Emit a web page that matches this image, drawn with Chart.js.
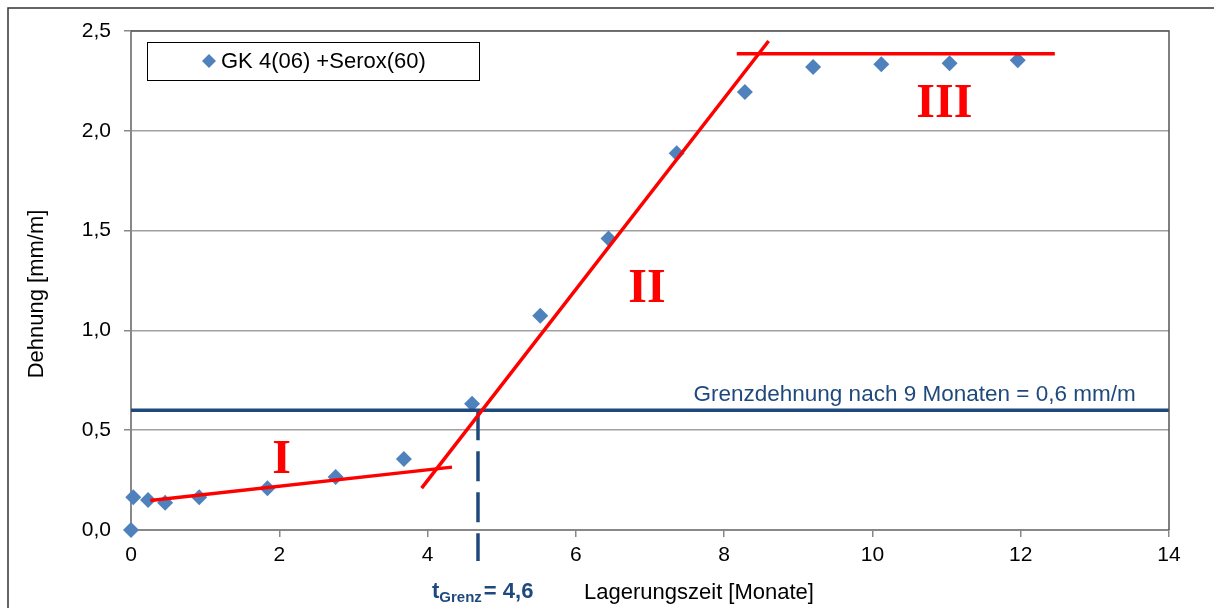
<!DOCTYPE html>
<html>
<head>
<meta charset="utf-8">
<script src="https://cdn.jsdelivr.net/npm/chart.js@4.4.1/dist/chart.umd.min.js"></script>
<style>
    html, body { margin: 0; padding: 0; background: #fff; }
    #wrap { width: 1214px; height: 608px; position: relative; }
</style>
</head>
<body>
<div id="wrap"><canvas id="chart"></canvas></div>
<script>
// Messwerte
const lagerMonate = [0, 0.03, 0.23, 0.46, 0.92, 1.84, 2.76, 3.68, 4.6, 5.52, 6.44, 7.36, 8.28, 9.2, 10.12, 11.04, 11.96];
const dehnung = [0, 0.164, 0.15, 0.137, 0.164, 0.209, 0.265, 0.356, 0.633, 1.074, 1.46, 1.888, 2.195, 2.32, 2.334, 2.339, 2.353];

// Ausgleichsgeraden der drei Phasen
const phaseIx = [0.26, 4.33];
const phaseIy = [0.148, 0.315];
const phaseIIx = [3.92, 8.6];
const phaseIIy = [0.21, 2.45];
const phaseIIIx = [8.17, 12.46];
const phaseIIIy = [2.386, 2.386];

// Grenzdehnung und Grenzzeit
const grenzX = [0, 14];
const grenzY = [0.6, 0.6];
const tGrenzX = [4.68, 4.68];
const tGrenzY = [0.6, -0.155];

const xTicks = [0, 2, 4, 6, 8, 10, 12, 14];
const yTicks = [0, 0.5, 1.0, 1.5, 2.0, 2.5];

const serieName = 'GK 4(06) +Serox(60)';
const rot = '#ff0000';
const dunkelblau = '#1f497d';
const punktFarbe = '#4f81bd';

const zip = (xs, ys) => xs.map((x, i) => ({ x: x, y: ys[i] }));

// Texte, Rahmen und Legende
const beschriftung = {
    id: 'beschriftung',
    afterDraw(chart) {
        const ctx = chart.ctx;
        const xs = chart.scales.x, ys = chart.scales.y;
        const a = chart.chartArea;
        ctx.save();

        // äußerer Rahmen
        ctx.strokeStyle = '#333';
        ctx.lineWidth = 1.5;
        ctx.beginPath();
        ctx.moveTo(8, 608);
        ctx.lineTo(8, 8);
        ctx.lineTo(1214, 8);
        ctx.stroke();

        // Rahmen Zeichenfläche oben / rechts
        ctx.strokeStyle = '#555';
        ctx.lineWidth = 1.5;
        ctx.beginPath();
        ctx.moveTo(a.left, a.top);
        ctx.lineTo(a.right, a.top);
        ctx.lineTo(a.right, a.bottom);
        ctx.stroke();

        // Legende
        ctx.fillStyle = '#fff';
        ctx.fillRect(147, 42, 332, 38);
        ctx.strokeStyle = '#000';
        ctx.lineWidth = 1;
        ctx.strokeRect(147.5, 42.5, 332, 38);
        ctx.fillStyle = punktFarbe;
        ctx.beginPath();
        ctx.moveTo(209, 54);
        ctx.lineTo(216, 61);
        ctx.lineTo(209, 68);
        ctx.lineTo(202, 61);
        ctx.closePath();
        ctx.fill();
        ctx.fillStyle = '#000';
        ctx.font = '22px "Liberation Sans", Arial, sans-serif';
        ctx.textAlign = 'left';
        ctx.textBaseline = 'middle';
        ctx.fillText(serieName, 221, 62);

        // Phasen I, II, III
        ctx.fillStyle = rot;
        ctx.font = 'bold 48px "Liberation Serif", "Times New Roman", serif';
        ctx.textAlign = 'center';
        ctx.textBaseline = 'middle';
        ctx.fillText('I', xs.getPixelForValue(2.03), ys.getPixelForValue(0.36) + 2);
        ctx.fillText('II', xs.getPixelForValue(6.96), ys.getPixelForValue(1.215) + 2);
        ctx.fillText('III', xs.getPixelForValue(10.97), ys.getPixelForValue(2.14) + 2);

        // Grenzdehnung
        ctx.fillStyle = dunkelblau;
        ctx.font = '22.5px "Liberation Sans", Arial, sans-serif';
        ctx.textAlign = 'right';
        ctx.fillText('Grenzdehnung nach 9 Monaten = 0,6 mm/m', xs.getPixelForValue(13.55), ys.getPixelForValue(0.69) + 3);

        // t_Grenz
        ctx.textAlign = 'left';
        ctx.textBaseline = 'alphabetic';
        let x = 432;
        const yb = 598;
        ctx.font = 'bold 22px "Liberation Sans", Arial, sans-serif';
        ctx.fillText('t', x, yb);
        x += ctx.measureText('t').width;
        ctx.font = 'bold 15px "Liberation Sans", Arial, sans-serif';
        ctx.fillText('Grenz', x, yb + 4);
        x += ctx.measureText('Grenz').width + 2;
        ctx.font = 'bold 22px "Liberation Sans", Arial, sans-serif';
        ctx.fillText('= 4,6', x, yb);

        // Achsentitel
        ctx.fillStyle = '#000';
        ctx.font = '22px "Liberation Sans", Arial, sans-serif';
        ctx.textAlign = 'center';
        ctx.textBaseline = 'middle';
        ctx.fillText('Lagerungszeit [Monate]', 699, 593);
        ctx.translate(37, 294);
        ctx.rotate(-Math.PI / 2);
        ctx.fillText('Dehnung [mm/m]', 0, 0);

        ctx.restore();
    }
};

const linie = (punkte, farbe, breite, extra) => Object.assign({
    type: 'line',
    data: punkte,
    borderColor: farbe,
    backgroundColor: farbe,
    borderWidth: breite,
    pointRadius: 0,
    fill: false,
    tension: 0
}, extra || {});

new Chart(document.getElementById('chart'), {
    type: 'scatter',
    data: {
        datasets: [
            linie(zip(phaseIx, phaseIy), rot, 3.5, { order: 1 }),
            linie(zip(phaseIIx, phaseIIy), rot, 3.5, { order: 1 }),
            linie(zip(phaseIIIx, phaseIIIy), rot, 3.5, { order: 1 }),
            linie(zip(grenzX, grenzY), dunkelblau, 3.5, { order: 2 }),
            linie(zip(tGrenzX, tGrenzY), dunkelblau, 3.5, { order: 2, borderDash: [30, 11], clip: false }),
            {
                label: serieName,
                data: zip(lagerMonate, dehnung),
                pointStyle: 'rectRot',
                pointRadius: 8,
                pointBorderWidth: 0,
                backgroundColor: punktFarbe,
                borderColor: punktFarbe,
                order: 3,
                clip: false
            }
        ]
    },
    options: {
        responsive: true,
        maintainAspectRatio: false,
        animation: false,
        layout: { padding: { top: 31, right: 45, left: 0, bottom: 0 } },
        plugins: {
            legend: { display: false },
            tooltip: { enabled: false },
            title: { display: false }
        },
        scales: {
            x: {
                type: 'linear',
                min: 0,
                max: 14,
                afterBuildTicks: (s) => { s.ticks = xTicks.map(v => ({ value: v })); },
                afterFit: (s) => { s.height = 78; },
                grid: { drawOnChartArea: false, drawTicks: true, tickLength: 7, color: '#888', lineWidth: 1.5 },
                border: { color: '#888', width: 2 },
                ticks: {
                    color: '#000',
                    padding: 6,
                    maxRotation: 0,
                    font: { family: '"Liberation Sans", Arial, sans-serif', size: 21 },
                    callback: (v) => String(v)
                }
            },
            y: {
                min: 0,
                max: 2.5,
                afterBuildTicks: (s) => { s.ticks = yTicks.map(v => ({ value: v })); },
                afterFit: (s) => { s.width = 131; },
                grid: { color: '#a0a0a0', lineWidth: 1.5, tickLength: 7, tickColor: '#888' },
                border: { color: '#888', width: 2 },
                ticks: {
                    color: '#000',
                    padding: 13,
                    font: { family: '"Liberation Sans", Arial, sans-serif', size: 21 },
                    callback: (v) => v.toFixed(1).replace('.', ',')
                }
            }
        }
    },
    plugins: [beschriftung]
});
</script>
</body>
</html>
